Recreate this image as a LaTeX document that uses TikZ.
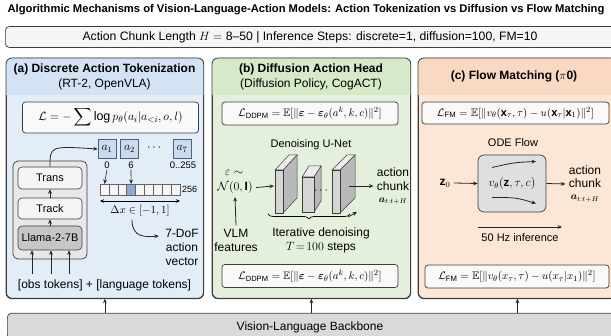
\documentclass[tikz,border=0pt]{standalone}
\usepackage{amsmath,amssymb}
\usepackage{fontspec}
\setmainfont{Liberation Sans}
\usetikzlibrary{arrows.meta,calc,decorations.pathreplacing}
\definecolor{bluebg}{HTML}{E2EDF8}
\definecolor{bluehd}{HTML}{D3E3F3}
\definecolor{greenbg}{HTML}{E4F0DB}
\definecolor{greenhd}{HTML}{D6E9C9}
\definecolor{orangebg}{HTML}{FCE7D7}
\definecolor{orangehd}{HTML}{F9D9C3}
\definecolor{edge}{HTML}{3C3C3C}
\definecolor{tokfill}{HTML}{CADBF0}
\definecolor{tokedge}{HTML}{4F5F78}
\definecolor{binfill}{HTML}{8EA9D2}
\newcommand\uslab[6]{%
  \filldraw[fill=gray!55,draw=edge,line width=0.5pt] (#1+#3,#2) -- (#1+#3+#5,#2-#6) -- (#1+#3+#5,#2+#4-#6) -- (#1+#3,#2+#4) -- cycle;
  \filldraw[fill=gray!15,draw=edge,line width=0.5pt] (#1,#2) -- (#1+#5,#2-#6) -- (#1+#3+#5,#2-#6) -- (#1+#3,#2) -- cycle;
  \filldraw[fill=gray!32,draw=edge,line width=0.5pt] (#1,#2) rectangle (#1+#3,#2+#4);}
\tikzset{
  panel/.style={draw=edge,line width=0.8pt,rounded corners=6pt,inner sep=0pt,anchor=north west},
  fbox/.style={draw=edge,line width=0.7pt,rounded corners=3pt,fill=gray!5,inner sep=0pt,font=\fontsize{10.8}{12}\selectfont},
  tok/.style={draw=tokedge,fill=tokfill,line width=0.6pt,minimum width=18pt,minimum height=19pt,inner sep=0pt,font=\fontsize{11.5}{12}\selectfont},
  sbox/.style={draw=edge,fill=gray!8,line width=0.6pt,rounded corners=4pt,minimum width=64pt,inner sep=0pt,font=\fontsize{11}{12}\selectfont},
  bin/.style={draw=edge!80,fill=gray!8,line width=0.4pt,minimum width=8.889pt,minimum height=11pt,inner sep=0pt,outer sep=0pt},
  arr/.style={-{Stealth[length=4.5pt,width=3.8pt]},line width=0.8pt,draw=black!85},
  lbl/.style={font=\fontsize{9.5}{10}\selectfont,inner sep=1pt},
  hdr/.style={font=\bfseries\fontsize{12}{13}\selectfont},
  small/.style={font=\fontsize{11}{13}\selectfont},
}
\begin{document}
\begin{tikzpicture}[x=1pt,y=-1pt,font=\fontsize{12}{14}\selectfont]
\useasboundingbox (0,0) rectangle (611,336);
\begin{scope}
\clip (0,0) rectangle (611,336);
\fill[white] (0,0) rectangle (611,336);
% title
\node[font=\bfseries\fontsize{11.2}{12}\selectfont] (title) at (306,10) {Algorithmic Mechanisms of Vision-Language-Action Models: Action Tokenization vs Diffusion vs Flow Matching};
% top bar
\node[draw=edge,fill=gray!8,line width=0.7pt,rounded corners=4pt,minimum width=611pt,minimum height=21pt,anchor=west,inner sep=0pt] (topbar) at (5,37) {};
\node[font=\fontsize{12.2}{13}\selectfont] (toptext) at (310,37.5) {Action Chunk Length $H=$ 8--50 | Inference Steps: discrete=1, diffusion=100, FM=10};
% panels
\node[panel,fill=bluebg,minimum width=197pt,minimum height=240pt] (pa) at (6,58) {};
\node[panel,fill=greenbg,minimum width=198pt,minimum height=240pt] (pb) at (212,58) {};
\node[panel,fill=orangebg,minimum width=198pt,minimum height=240pt] (pc) at (418,58) {};
\foreach \p/\c in {pa/bluehd,pb/greenhd,pc/orangehd}{
  \begin{scope}
  \clip[rounded corners=6pt] (\p.north west) rectangle (\p.south east);
  \fill[\c] (\p.north west) rectangle ($(\p.north east)+(0,37)$);
  \end{scope}
  \draw[edge,line width=0.8pt,rounded corners=6pt] (\p.north west) rectangle (\p.south east);
}
% ===== panel a
\node[hdr] (ha) at (104.5,69) {(a) Discrete Action Tokenization};
\node (ha2) at (104.5,84.5) {(RT-2, OpenVLA)};
\node[fbox,minimum width=176pt,minimum height=31pt,font=\fontsize{12.5}{13}\selectfont] (fa) at (110.5,117.5) {$\mathcal{L}=-\displaystyle\sum\log p_\theta(a_i|a_{<i},o,l)$};
\node[tok] (a1) at (107,149) {$a_1$};
\node[tok] (a2) at (129.5,149) {$a_2$};
\node (adots) at (155,148) {$\cdots$};
\node[tok] (a7) at (182,149) {$a_7$};
\node[lbl] (l0) at (107,165) {0};
\node[lbl] (l6) at (131,165) {6};
\node[lbl] (l255) at (183,165) {0..255};
\foreach \i in {0,...,8}{\node[bin] (b\i) at (104.444+8.889*\i,189.5) {};}
\node[bin,fill=binfill] at (b3) {};
\node[lbl,anchor=west,font=\fontsize{9}{10}\selectfont] (n256) at (181,189.5) {256};
\draw[arr,line width=0.6pt] (l0.south) -- (b0.north);
\draw[arr,line width=0.6pt] (l6.south) -- (b3.north);
\draw[{Stealth[length=4pt,width=3.5pt]}-{Stealth[length=4pt,width=3.5pt]},line width=0.7pt] ($(b0.south west)+(0,6)$) -- ($(b8.south east)+(0,6)$);
\node[font=\fontsize{11}{12}\selectfont] (dx) at (140,211) {$\Delta x\in[-1,1]$};
\node[align=center] (dof) at (182,247) {7-DoF\\action\\vector};
\draw[arr] ($(dx.south)+(-8,0)$) .. controls ($(dx.south)+(-8,18)$) and ($(dof.west)+(-16,-10)$) .. ($(dof.west)+(-3,-11)$);
% stack
\node[draw=edge,fill=gray!18,line width=0.7pt,rounded corners=5pt,minimum width=74pt,minimum height=98pt,inner sep=0pt] (stk) at (50,210) {};
\node[sbox,minimum height=22pt] (trans) at (50,178) {Trans};
\node[sbox,minimum height=21pt] (track) at (50,208.5) {Track};
\node[sbox,minimum height=24pt,fill=gray!45] (llama) at (50,238) {Llama-2-7B};
\draw[arr] (track.north) -- (trans.south);
\draw[arr] (llama.north) -- (track.south);
\draw[arr] (trans.north) .. controls (50,146) .. (a1.west);
\node (obs) at (104.5,285) {[obs tokens] + [language tokens]};
\foreach \x/\n in {32/i1,51/i2,69/i3}{\coordinate (\n) at (\x,274); \draw[arr] (\n) -- (\n |- llama.south);}
% ===== panel b
\node[hdr] (hb) at (311,69) {(b) Diffusion Action Head};
\node (hb2) at (311,84.5) {(Diffusion Policy, CogACT)};
\node[fbox,minimum width=176pt,minimum height=23pt] (fb) at (310,113.5) {$\mathcal{L}_{\mathrm{DDPM}}=\mathbb{E}[\|\boldsymbol{\varepsilon}-\boldsymbol{\varepsilon}_\theta(a^k,k,c)\|^2]$};
\node[small] (unet) at (311,145) {Denoising U-Net};
\node (epsl) at (234,173) {$\varepsilon\sim$};
\node (noise) at (235,187.5) {$\mathcal{N}(0,\mathbf{I})$};
\node[align=center] (vlm) at (236,240) {VLM\\features};
\draw[arr] (vlm.north) -- (noise.south);
\uslab{275}{170}{8}{43}{14}{15}
\uslab{302}{177}{12}{35}{7}{11}
\uslab{332}{170}{8}{43}{15}{15}
\node (udots) at (322,191) {$\cdots$};
\coordinate (s1in) at (274,186);
\coordinate (s3out) at (349,186);
\draw[arr] (noise.east) -- (s1in);
\node[align=center,font=\fontsize{12}{14}\selectfont] (actb) at (393,186) {action\\chunk\\[-2pt]{\fontsize{10}{11}\selectfont$\boldsymbol{a}_{t:t+H}$}};
\draw[arr] (s3out) -- (actb.west);
\coordinate (br1) at (268,214);
\coordinate (br2) at (350,214);
\draw[line width=0.7pt,decorate,decoration={brace,mirror,amplitude=5pt}] (br1) -- (br2);
\draw[arr] ($(br2)+(-2,3)$) -- ($(br2)+(7,-2)$);
\node[align=center] (iter) at (321,240) {Iterative denoising\\$T\!=\!100$ steps};
\node[fbox,minimum width=176pt,minimum height=23pt] (fb2) at (310,276) {$\mathcal{L}_{\mathrm{DDPM}}=\mathbb{E}[\|\boldsymbol{\varepsilon}-\boldsymbol{\varepsilon}_\theta(a^k,k,c)\|^2]$};
% ===== panel c
\node[hdr] (hc) at (514,76.5) {(c) Flow Matching (\(\pi\)0)};
\node[fbox,minimum width=187pt,minimum height=22pt,font=\fontsize{11}{12}\selectfont] (fc) at (515.5,113) {$\mathcal{L}_{\mathrm{FM}}=\mathbb{E}[\|v_\theta(\mathbf{x}_\tau,\tau)-u(\mathbf{x}_\tau|\mathbf{x}_1)\|^2]$};
\node[small] (odet) at (513,143) {ODE Flow};
\node[draw=edge,fill=gray!25,line width=0.7pt,rounded corners=6pt,minimum width=68pt,minimum height=57pt,inner sep=0pt,font=\fontsize{11.5}{12}\selectfont] (ode) at (512,183.5) {$v_\theta(\mathbf{z},\tau,c)$};
\draw[arr] ($(ode.center)+(-20,-16)$) .. controls ($(ode.center)+(2,-21)$) .. ($(ode.center)+(24,-22)$);
\draw[arr] ($(ode.center)+(-20,14)$) .. controls ($(ode.center)+(4,14)$) .. ($(ode.center)+(24,20)$);
\node (z0) at (445,183) {$\mathbf{z}_0$};
\draw[arr] (z0.east) -- (ode.west);
\node[align=center,font=\fontsize{12}{12.5}\selectfont] (actc) at (585,184) {action\\chunk\\{\fontsize{10}{11}\selectfont$\boldsymbol{a}_{t:t+H}$}};
\draw[arr] (ode.east) -- (actc.west);
\node[small] (hz) at (520,238) {50 Hz inference};
\draw[arr] ([yshift=11pt]hz.west) -- ([yshift=11pt]hz.east);
\node[fbox,minimum width=184pt,minimum height=23pt,font=\fontsize{11}{12}\selectfont] (fc2) at (517,276.5) {$\mathcal{L}_{\mathrm{FM}}=\mathbb{E}[\|v_\theta(x_\tau,\tau)-u(x_\tau|x_1)\|^2]$};
% backbone
\node[draw=edge,fill=gray!30,line width=0.7pt,rounded corners=4pt,minimum width=612pt,minimum height=26pt,anchor=north west,inner sep=0pt] (bb) at (7,313) {};
\node (bbt) at (310,327) {Vision-Language Backbone};
\foreach \p in {pa,pb,pc}{\draw[arr] (\p.south |- bb.north) -- (\p.south);}
\end{scope}
\end{tikzpicture}
\end{document}
